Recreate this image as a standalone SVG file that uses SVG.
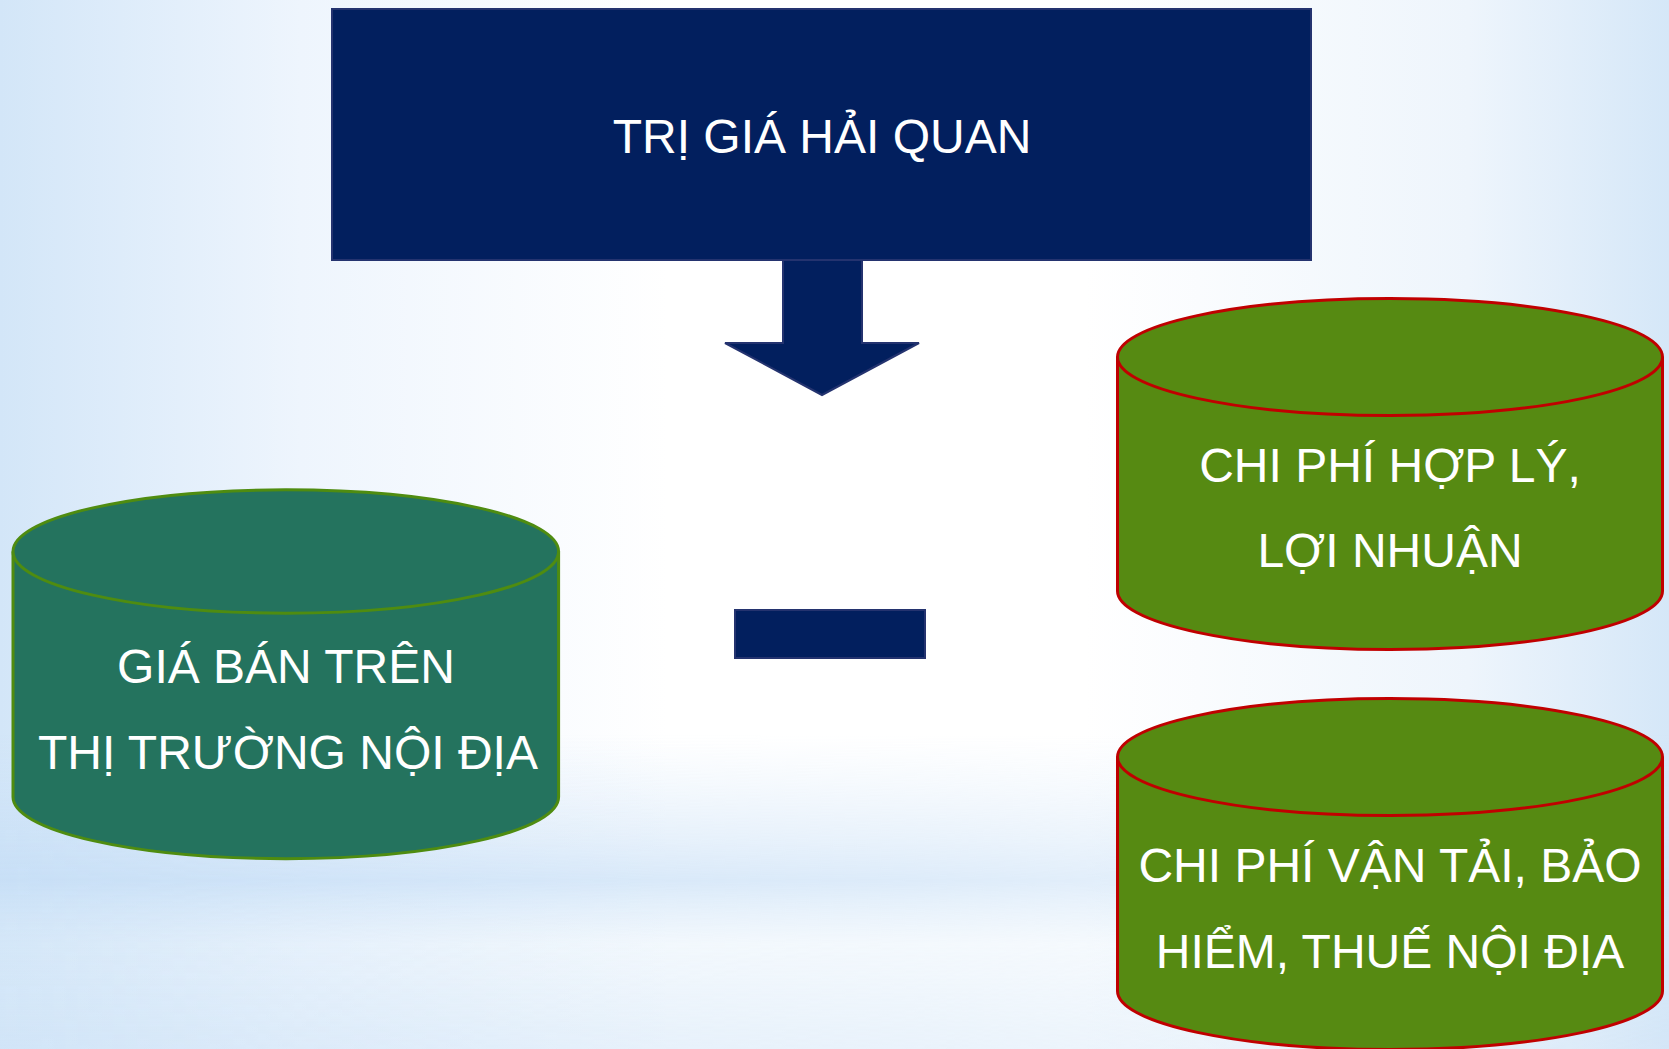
<svg xmlns="http://www.w3.org/2000/svg" width="1669" height="1049" viewBox="0 0 1669 1049">
<defs>
<linearGradient id="bgH" x1="0" y1="0" x2="1" y2="0">
<stop offset="0" stop-color="#d3e6f8"/>
<stop offset="0.18" stop-color="#eef5fd"/>
<stop offset="0.4" stop-color="#ffffff"/>
<stop offset="0.65" stop-color="#ffffff"/>
<stop offset="0.88" stop-color="#eef5fc"/>
<stop offset="1" stop-color="#d5e7f8"/>
</linearGradient>
<linearGradient id="bgV" x1="0" y1="0" x2="0" y2="1">
<stop offset="0" stop-color="#cfe4f8" stop-opacity="0"/>
<stop offset="0.7" stop-color="#cfe4f8" stop-opacity="0"/>
<stop offset="0.8" stop-color="#c6def6" stop-opacity="0.55"/>
<stop offset="0.84" stop-color="#c6def6" stop-opacity="0.85"/>
<stop offset="0.9" stop-color="#d6e8f8" stop-opacity="0.4"/>
<stop offset="1" stop-color="#d0e4f7" stop-opacity="0.65"/>
</linearGradient>
<linearGradient id="bgFade" x1="0" y1="0" x2="1" y2="0">
<stop offset="0" stop-color="#fff" stop-opacity="1"/>
<stop offset="0.55" stop-color="#fff" stop-opacity="0.7"/>
<stop offset="1" stop-color="#fff" stop-opacity="0.3"/>
</linearGradient>
<mask id="bandMask">
<rect x="0" y="0" width="1669" height="1049" fill="url(#bgFade)"/>
</mask>
</defs>
<style>
.lbl{font-family:"Liberation Sans",Arial,sans-serif;font-size:48px;fill:#ffffff;text-anchor:middle}
.navy{fill:#021f5e;stroke:#24336f;stroke-width:2}
.teal{fill:#24735e;stroke:#4f8c10;stroke-width:3}
.olive{fill:#568a12;stroke:#c00000;stroke-width:3}
</style>
<rect x="0" y="0" width="1669" height="1049" fill="url(#bgH)"/>
<rect x="0" y="0" width="1669" height="1049" fill="url(#bgV)" mask="url(#bandMask)"/>

<g id="connectors">
<polygon class="navy" points="783,259 783,343 725,343 822,395 919,343 862,343 862,259"/>
</g>

<g id="node-tri-gia">
<rect class="navy" x="332" y="9" width="979" height="251"/>
<text class="lbl" x="822" y="153">TRỊ GIÁ HẢI QUAN</text>
</g>

<g id="node-minus">
<rect class="navy" x="735" y="610" width="190" height="48"/>
</g>

<g id="node-gia-ban">
<path class="teal" d="M13,551.5 L13,797 A272.8,61.7 0 0 0 558.6,797 L558.6,551.5"/>
<ellipse class="teal" cx="285.8" cy="551.5" rx="272.8" ry="61.7"/>
<text class="lbl" x="286" y="683">GIÁ BÁN TRÊN</text>
<text class="lbl" x="288" y="769">THỊ TRƯỜNG NỘI ĐỊA</text>
</g>

<g id="node-chi-phi-hop-ly">
<path class="olive" d="M1117.5,357 L1117.5,591 A272.5,58.5 0 0 0 1662.5,591 L1662.5,357"/>
<ellipse class="olive" cx="1390" cy="357" rx="272.5" ry="58.5"/>
<text class="lbl" x="1390" y="482">CHI PHÍ HỢP LÝ,</text>
<text class="lbl" x="1390" y="567">LỢI NHUẬN</text>
</g>

<g id="node-chi-phi-van-tai">
<path class="olive" d="M1117.5,757 L1117.5,991 A272.5,58.5 0 0 0 1662.5,991 L1662.5,757"/>
<ellipse class="olive" cx="1390" cy="757" rx="272.5" ry="58.5"/>
<text class="lbl" x="1390" y="882">CHI PHÍ VẬN TẢI, BẢO</text>
<text class="lbl" x="1390" y="968">HIỂM, THUẾ NỘI ĐỊA</text>
</g>
</svg>
